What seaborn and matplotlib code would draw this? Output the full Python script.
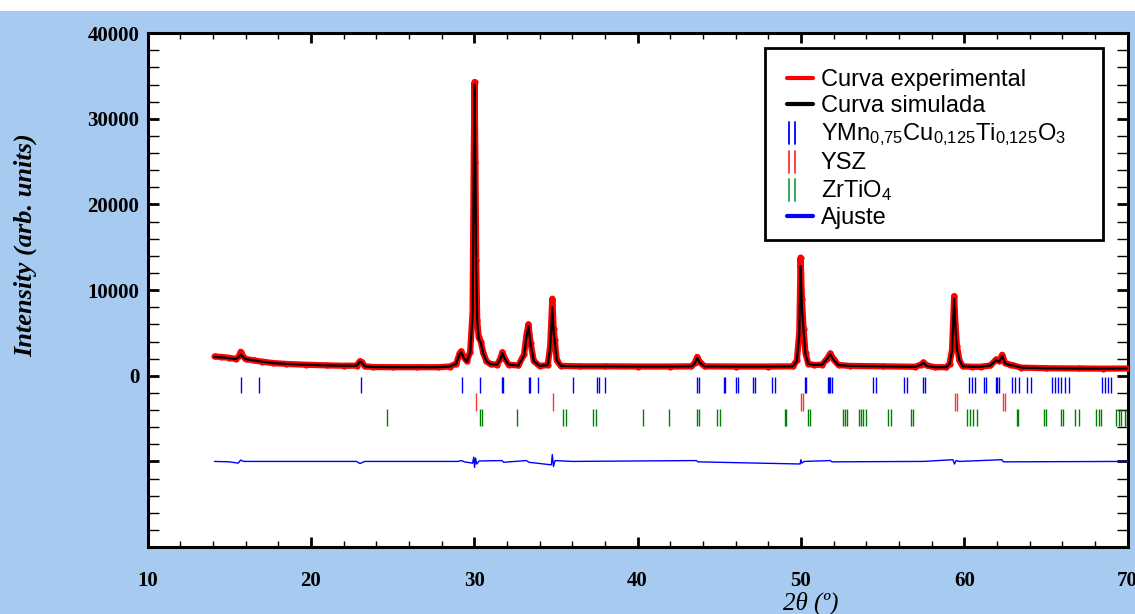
import numpy as np
import matplotlib
matplotlib.use("Agg")
import matplotlib.pyplot as plt
import seaborn as sns
from matplotlib.lines import Line2D
from matplotlib.patches import Rectangle
from matplotlib.legend_handler import HandlerBase
from matplotlib.ticker import MultipleLocator, FuncFormatter

# ---------------- data ----------------
two_theta = [14.1, 14.5, 15.0, 15.4, 15.6, 15.7, 15.8, 16.0, 16.5, 17.0, 17.7, 18.5, 19.7,
             21.0, 22.0, 22.8, 23.0, 23.1, 23.3, 23.8, 25.0, 26.5, 27.8, 28.5, 28.9, 29.1,
             29.2, 29.35, 29.55, 29.75, 29.9, 29.97, 30.02, 30.07, 30.12, 30.18, 30.27, 30.4,
             30.55, 30.75, 31.0, 31.4, 31.6, 31.72, 31.85, 32.1, 32.7, 33.05, 33.2, 33.32,
             33.45, 33.65, 34.0, 34.5, 34.65, 34.78, 34.86, 34.93, 35.05, 35.3, 36.5, 38.0,
             40.0, 42.0, 43.3, 43.5, 43.65, 43.8, 44.1, 46.0, 48.0, 49.5, 49.75, 49.9, 49.98,
             50.06, 50.16, 50.28, 50.45, 50.8, 51.3, 51.6, 51.8, 52.0, 52.3, 53.0, 55.0,
             57.0, 57.35, 57.5, 57.7, 58.2, 58.9, 59.1, 59.25, 59.38, 59.46, 59.55, 59.7,
             59.9, 60.5, 61.0, 61.6, 61.95, 62.15, 62.32, 62.5, 62.8, 63.0, 63.5, 65.0,
             67.0, 68.5, 70.0]
i_obs = [2250, 2200, 2100, 1950, 2300, 2800, 2400, 1950, 1800, 1650, 1480, 1380, 1290,
         1210, 1170, 1180, 1700, 1600, 1100, 1020, 1000, 1000, 1000, 1080, 1400, 2600,
         2850, 2200, 1700, 2800, 7500, 25500, 34300, 25000, 13500, 6500, 4500, 4000,
         2700, 1700, 1350, 1300, 2000, 2750, 2100, 1300, 1200, 2500, 4800, 6000,
         3800, 1700, 1150, 1250, 3500, 9000, 5500, 4200, 1800, 1150, 1100, 1100,
         1080, 1080, 1100, 1500, 2200, 1600, 1100, 1080, 1080, 1100, 1800, 5000, 13800,
         9000, 5500, 2600, 1400, 1250, 1300, 2000, 2600, 1900, 1250, 1150, 1100,
         1050, 1300, 1560, 1200, 1000, 1000, 1400, 3000, 9300, 6000, 3500, 1800,
         1100, 1050, 1050, 1200, 1900, 1700, 2450, 1500, 1300, 1200, 950, 880,
         850, 830, 850]
i_calc = [2200, 2150, 2050, 1950, 2200, 2500, 2300, 1950, 1800, 1650, 1480, 1380, 1290,
          1210, 1170, 1180, 1650, 1550, 1100, 1020, 1000, 1000, 1000, 1080, 1400, 2500,
          2750, 2100, 1650, 2700, 7000, 24000, 34000, 24000, 12000, 6500, 4300, 3900,
          2600, 1700, 1350, 1300, 1950, 2650, 2050, 1300, 1200, 2400, 4600, 5800,
          3700, 1700, 1150, 1250, 3300, 8000, 5000, 4000, 1800, 1150, 1100, 1100,
          1080, 1080, 1100, 1450, 2100, 1550, 1100, 1080, 1080, 1100, 1700, 4800, 12800,
          8000, 5200, 2500, 1400, 1250, 1300, 1950, 2500, 1850, 1250, 1150, 1100,
          1050, 1300, 1500, 1150, 1000, 1000, 1400, 2900, 9000, 5500, 3200, 1800,
          1100, 1050, 1050, 1200, 1800, 1650, 2300, 1450, 1250, 1200, 950, 880,
          850, 830, 850]

diff_theta = [14.1, 15.0, 15.55, 15.7, 15.9, 18.0, 22.8, 23.0, 23.3, 29.0, 29.2, 29.4,
              29.9, 29.97, 30.02, 30.08, 30.15, 30.3, 31.7, 31.8, 33.2, 33.35, 34.72,
              34.78, 34.85, 34.95, 36.0, 43.6, 43.7, 49.95, 50.0, 50.05, 50.2, 51.8, 51.9,
              57.5, 59.3, 59.4, 59.5, 59.7, 62.3, 62.4, 70.0]
diff_val = [-10000, -10050, -10200, -9850, -10000, -10000, -10000, -10250, -10000,
            -10000, -9900, -10050, -10200, -9500, -10700, -9600, -10300, -9950, -9900,
            -10100, -9900, -10100, -10400, -9200, -10600, -9900, -10000, -9900, -10050,
            -10300, -9800, -10200, -10000, -9900, -10050, -10000, -9800, -10300, -9900,
            -10000, -9800, -10050, -10000]

pos_ymno = [15.75, 16.81, 23.04, 29.25, 30.33, 31.70, 31.78, 33.33, 33.43, 33.90, 36.07,
            37.54, 37.64, 37.99, 43.65, 43.75, 45.28, 45.38, 46.03, 46.13, 47.05, 47.17,
            48.23, 48.39, 50.23, 50.33, 51.65, 51.72, 51.80, 51.90, 54.44, 54.58, 56.33,
            56.47, 57.50, 57.60, 60.29, 60.45, 60.65, 61.22, 61.32, 61.95, 62.02, 62.10,
            62.95, 63.13, 63.34, 63.87, 64.07, 65.38, 65.58, 65.74, 65.94, 66.19, 66.40,
            68.43, 68.63, 68.80, 68.96]
pos_ysz = [30.09, 34.83, 50.02, 50.12, 59.43, 59.57, 62.38, 62.52]
pos_zrtio4 = [24.63, 30.35, 30.45, 32.63, 35.46, 35.61, 37.28, 37.44, 40.33, 41.92, 43.65,
              43.75, 44.87, 45.02, 49.00, 49.11, 50.41, 50.57, 52.55, 52.67, 52.85, 53.57,
              53.69, 53.83, 53.97, 55.31, 55.50, 56.74, 56.88, 60.14, 60.35, 60.55, 60.75,
              63.20, 63.30, 64.89, 65.03, 65.91, 66.05, 66.80, 67.01, 68.08, 68.23, 68.39,
              69.31, 69.45, 69.61, 69.85, 69.95]

legend_labels = ["Curva experimental", "Curva simulada",
                 r"YMn$_{0{,}75}$Cu$_{0{,}125}$Ti$_{0{,}125}$O$_3$",
                 "YSZ", r"ZrTiO$_4$", "Ajuste"]
ytick_values = [-20000, -10000, 0, 10000, 20000, 30000, 40000]

# ---------------- style ----------------
sns.set_style("ticks")
plt.rcParams["font.family"] = ["Liberation Serif", "DejaVu Serif"]
plt.rcParams["mathtext.default"] = "regular"
plt.rcParams["text.color"] = "black"
plt.rcParams["axes.labelcolor"] = "black"
plt.rcParams["xtick.color"] = "black"
plt.rcParams["ytick.color"] = "black"

BG = "#A6CAF0"
fig = plt.figure(figsize=(11.35, 6.14), dpi=100, facecolor=BG)
fig.patches.append(Rectangle((0, 1 - 11 / 614), 1, 11 / 614, transform=fig.transFigure,
                             facecolor="white", edgecolor="none", zorder=0))
ax = fig.add_axes([0.130, 0.109, 0.8635, 0.837])
ax.set_facecolor("white")

RED = "#FF0000"
BLUE = "#0000FF"
GREEN = "#008000"

sns.lineplot(x=two_theta, y=i_obs, ax=ax, color=RED, lw=4.5, marker="o", markersize=4.5,
             markeredgewidth=0, sort=False, estimator=None, zorder=3)
sns.lineplot(x=two_theta, y=i_calc, ax=ax, color="black", lw=1.6, sort=False,
             estimator=None, zorder=4)
sns.lineplot(x=diff_theta, y=diff_val, ax=ax, color=BLUE, lw=1.0, sort=False,
             estimator=None, zorder=3)

ax.vlines(pos_ymno, -200, -2000, color=BLUE, lw=1.0, zorder=2)
ax.vlines(pos_ysz, -2000, -4100, color="#FF3333", lw=1.0, zorder=2)
ax.vlines(pos_zrtio4, -3900, -5900, color=GREEN, lw=1.0, zorder=2)

ax.set_xlim(10, 70)
ax.set_ylim(-20000, 40000)
ax.xaxis.set_major_locator(MultipleLocator(10))
ax.xaxis.set_minor_locator(MultipleLocator(2))
ax.set_yticks(ytick_values)
ax.yaxis.set_minor_locator(MultipleLocator(2000))
ax.yaxis.set_major_formatter(FuncFormatter(lambda v, p: f"{int(v)}" if v >= 0 else ""))

for s in ax.spines.values():
    s.set_linewidth(2.2)
    s.set_color("black")

ax.tick_params(which="both", direction="in", top=True, right=True, colors="black")
ax.tick_params(which="major", length=7, width=2.0)
ax.tick_params(which="minor", length=4, width=1.0)
ax.tick_params(axis="y", which="both", length=8)
ax.tick_params(axis="x", which="major", pad=17)
ax.tick_params(axis="y", which="major", pad=6)
for lab in ax.get_xticklabels() + ax.get_yticklabels():
    lab.set_fontsize(15)
    lab.set_fontweight("bold")
    lab.set_family("Liberation Serif")
    lab.set_color("black")

ax.set_ylabel("Intensity (arb. units)", fontsize=19, fontstyle="italic",
              fontweight="bold", family="Liberation Serif", color="black")
ax.yaxis.set_label_coords(-0.113, 0.588)
ax.set_xlabel("2θ (º)", fontsize=18, fontstyle="italic", family="Liberation Serif",
              color="black")
ax.xaxis.set_label_coords(0.677, -0.086)


class DoubleBar(HandlerBase):
    def create_artists(self, legend, orig_handle, xdescent, ydescent, width, height,
                       fontsize, trans):
        c = orig_handle.get_color()
        arts = []
        for fx in (0.1, 0.33):
            x = -xdescent + fx * width
            l = Line2D([x, x], [-ydescent - 0.25 * height, -ydescent + 1.1 * height],
                       color=c, lw=1.3, transform=trans)
            arts.append(l)
        return arts


class BarProxy:
    def __init__(self, color):
        self._c = color

    def get_color(self):
        return self._c


handles = [Line2D([], [], color=RED, lw=3), Line2D([], [], color="black", lw=3),
           BarProxy(BLUE), BarProxy("#FF3333"), BarProxy("#22A050"),
           Line2D([], [], color=BLUE, lw=3)]

ax.add_patch(Rectangle((0.6298, 0.5973), 0.9745 - 0.6298, 0.9708 - 0.5973,
                       transform=ax.transAxes, facecolor="white", edgecolor="black",
                       lw=2.0, zorder=6))
leg = ax.legend(handles, legend_labels, loc="upper left", bbox_to_anchor=(0.652, 0.93),
                frameon=False, borderpad=0, borderaxespad=0, handlelength=1.1,
                handletextpad=0.35, labelspacing=0.17,
                prop={"family": "Liberation Sans", "size": 17},
                handler_map={BarProxy: DoubleBar()})
for t in leg.get_texts():
    t.set_color("black")
leg.set_zorder(7)

fig.savefig("out.png", dpi=100, facecolor=BG)
